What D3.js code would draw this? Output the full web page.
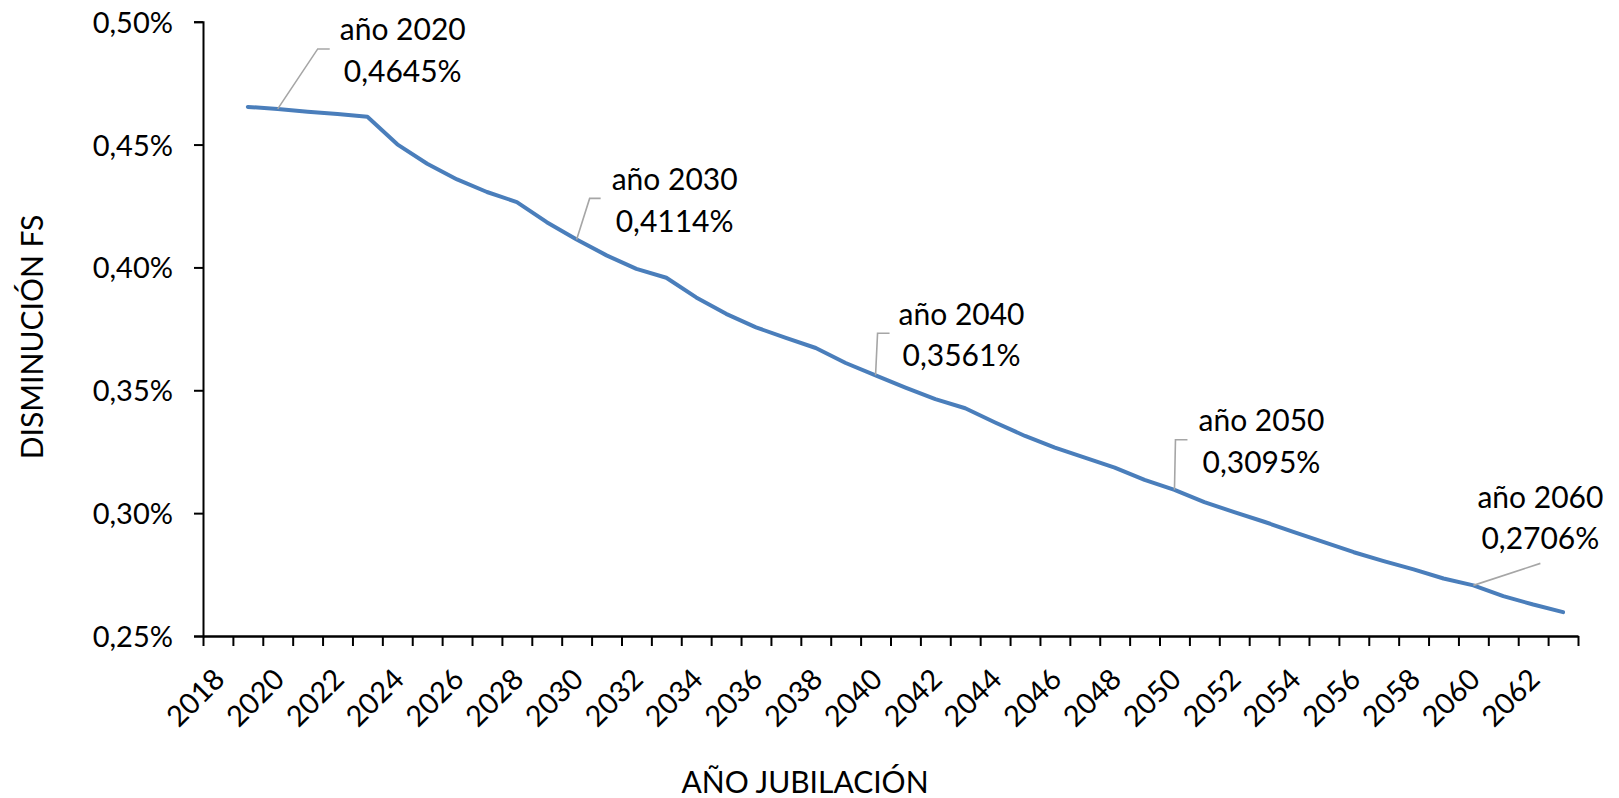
<!DOCTYPE html>
<html>
<head>
<meta charset="utf-8">
<script src="https://cdn.jsdelivr.net/npm/d3@7"></script>
<style>
  html, body { margin: 0; padding: 0; background: #fff; }
  svg { display: block; }
  text { font-family: Lato, "Noto Sans", sans-serif; fill: #000; }
</style>
</head>
<body>
<div id="chart"></div>
<script>
// ---- DATA ----
const categories = [2018,2019,2020,2021,2022,2023,2024,2025,2026,2027,2028,2029,2030,2031,2032,2033,2034,2035,2036,2037,2038,2039,2040,2041,2042,2043,2044,2045,2046,2047,2048,2049,2050,2051,2052,2053,2054,2055,2056,2057,2058,2059,2060,2061,2062,2063];
const seriesYears = [2019,2020,2021,2022,2023,2024,2025,2026,2027,2028,2029,2030,2031,2032,2033,2034,2035,2036,2037,2038,2039,2040,2041,2042,2043,2044,2045,2046,2047,2048,2049,2050,2051,2052,2053,2054,2055,2056,2057,2058,2059,2060,2061,2062,2063];
const seriesValues = [0.4653,0.4645,0.4634,0.4624,0.4613,0.4501,0.4422,0.4358,0.4307,0.4266,0.4184,0.4114,0.4049,0.3994,0.3958,0.3878,0.3811,0.3756,0.3713,0.3672,0.3611,0.3561,0.3511,0.3464,0.3427,0.3369,0.3314,0.3267,0.3226,0.3185,0.3135,0.3095,0.3045,0.3004,0.2965,0.2923,0.2882,0.2841,0.2805,0.2771,0.2734,0.2706,0.2662,0.2628,0.2597];
const xTickLabels = [2018,2020,2022,2024,2026,2028,2030,2032,2034,2036,2038,2040,2042,2044,2046,2048,2050,2052,2054,2056,2058,2060,2062];
const yTickValues = [0.25,0.30,0.35,0.40,0.45,0.50];
const annotatedYears = [2020,2030,2040,2050,2060];
const xTitle = "AÑO JUBILACIÓN";
const yTitle = "DISMINUCIÓN FS";

// ---- LAYOUT (positions / styles) ----
const W = 1619, H = 798;
const plot = { left: 203, right: 1578, top: 21.7, bottom: 636 };
// label offsets relative to data point: label centre dx, baselines dy1/dy2, leader points
const annotLayout = {
  2020: { dx: 125, dy1: -69, dy2: -27, leader: [[0,0],[40,-60],[52,-60]] },
  2030: { dx: 98, dy1: -49, dy2: -7, leader: [[0,0],[13,-41],[24,-41]] },
  2040: { dx: 86, dy1: -50.5, dy2: -9.5, leader: [[0,0],[2,-42],[14,-42]] },
  2050: { dx: 87, dy1: -59, dy2: -17, leader: [[0,0],[1,-50],[13,-50]] },
  2060: { dx: 67, dy1: -77.5, dy2: -36, leader: [[0,0],[67,-22]] }
};

const svg = d3.select("#chart").append("svg").attr("width", W).attr("height", H);

const x = d3.scaleLinear()
  .domain([categories[0] - 0.5, categories[categories.length - 1] + 0.5])
  .range([plot.left, plot.right]);
const y = d3.scaleLinear().domain([0.25, 0.50]).range([plot.bottom, plot.top]);

const fmtTick = v => d3.format(".2f")(v).replace(".", ",") + "%";
const fmtVal = v => d3.format(".4f")(v).replace(".", ",") + "%";

// Y axis
const yAxis = svg.append("g")
  .attr("transform", `translate(${plot.left},0)`)
  .call(d3.axisLeft(y).tickValues(yTickValues).tickFormat(fmtTick).tickSize(9).tickPadding(21));
yAxis.select(".domain").attr("stroke", "#000").attr("stroke-width", 2);
yAxis.selectAll(".tick line").attr("stroke", "#000").attr("stroke-width", 2);
yAxis.selectAll(".tick text").style("font-size", "29px").attr("dy", "0.36em");

// X axis: tick marks at category boundaries
const boundaries = categories.map(c => c - 0.5).concat([categories[categories.length - 1] + 0.5]);
const xTicks = svg.append("g")
  .attr("transform", `translate(0,${plot.bottom})`)
  .call(d3.axisBottom(x).tickValues(boundaries).tickFormat("").tickSizeInner(10).tickSizeOuter(0));
xTicks.select(".domain").attr("stroke", "#000").attr("stroke-width", 2.5);
xTicks.selectAll(".tick line").attr("stroke", "#000").attr("stroke-width", 2);

// X axis labels at category centres, rotated
const xLabels = svg.append("g")
  .attr("transform", `translate(0,${plot.bottom})`)
  .call(d3.axisBottom(x).tickValues(xTickLabels).tickFormat(d3.format("d")).tickSize(0));
xLabels.select(".domain").remove();
xLabels.selectAll(".tick text")
  .style("font-size", "29px")
  .attr("text-anchor", "end")
  .attr("y", 0).attr("dy", 0)
  .attr("transform", "translate(8,45) rotate(-45)");

// Line
const pts = seriesYears.map((yr, i) => [yr, seriesValues[i]]);
svg.append("path")
  .datum(pts)
  .attr("fill", "none")
  .attr("stroke", "#4A7EBB")
  .attr("stroke-width", 4)
  .attr("stroke-linejoin", "round")
  .attr("stroke-linecap", "round")
  .attr("d", d3.line().x(d => x(d[0])).y(d => y(d[1])));

// Annotations
const annG = svg.append("g");
annotatedYears.forEach(yr => {
  const v = seriesValues[seriesYears.indexOf(yr)];
  const px = x(yr), py = y(v);
  const L = annotLayout[yr];
  annG.append("path")
    .attr("fill", "none")
    .attr("stroke", "#A6A6A6")
    .attr("stroke-width", 1.6)
    .attr("d", d3.line()(L.leader.map(p => [px + p[0], py + p[1]])));
  annG.append("text")
    .attr("x", px + L.dx).attr("y", py + L.dy1)
    .attr("text-anchor", "middle").style("font-size", "30px")
    .text("año " + yr);
  annG.append("text")
    .attr("x", px + L.dx).attr("y", py + L.dy2)
    .attr("text-anchor", "middle").style("font-size", "30px")
    .text(fmtVal(v));
});

// Axis titles
svg.append("text")
  .attr("x", 805).attr("y", 793)
  .attr("text-anchor", "middle").style("font-size", "30px")
  .text(xTitle);
svg.append("text")
  .attr("transform", "translate(43,337) rotate(-90)")
  .attr("text-anchor", "middle").style("font-size", "30px")
  .text(yTitle);
</script>
</body>
</html>
